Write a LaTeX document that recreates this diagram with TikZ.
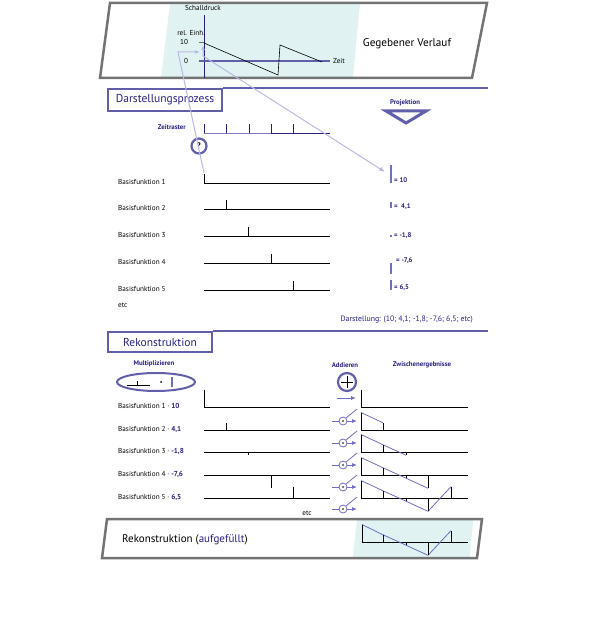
\documentclass[tikz,border=0pt]{standalone}
\usepackage{fontspec}
\setmainfont{PT Sans}
\usepackage{xcolor}
\usetikzlibrary{positioning,calc,arrows.meta,shapes.geometric}
\definecolor{navy}{RGB}{40,32,130}
\definecolor{violett}{RGB}{98,95,170}
\definecolor{lavendel}{RGB}{185,185,228}
\definecolor{schalter}{RGB}{112,110,190}
\definecolor{rahmen}{RGB}{115,115,115}
\definecolor{tuerkis}{RGB}{224,242,242}

\begin{document}
\begin{tikzpicture}[x=1pt,y=-1pt,
    rahmenlinie/.style={draw=rahmen,line width=2.5pt,line join=miter},
    abschnitt/.style={rectangle,draw=violett,line width=2pt,text=navy,font=\fontsize{11.5}{13}\selectfont,inner sep=0pt},
    klein/.style={font=\fontsize{7.2}{8.5}\selectfont,inner sep=0pt},
    blau/.style={text=navy,font=\fontsize{6.8}{8}\selectfont\bfseries,inner sep=0pt},
    wert/.style={font=\fontsize{6.8}{8}\selectfont\bfseries,text=navy,anchor=west,inner sep=0pt},
    kreis/.style={circle,draw=violett,line width=2.2pt,inner sep=0pt,minimum size=15pt},
    schalt/.style={circle,draw=schalter,line width=0.8pt,inner sep=0pt,minimum size=8pt},
    balken/.style={draw=schalter,line width=2pt},
    kurve/.style={draw=schalter,line width=0.8pt}]

\useasboundingbox (0,0) rectangle (591,617);

% gegebener Verlauf
\fill[tuerkis] (170,3) -- (360,3) -- (353,78) -- (161,78) -- cycle;
\draw[rahmenlinie] (110,3) -- (487,3) -- (472,78) -- (100,78) -- cycle;
\draw[navy,line width=0.8pt] (204,15) -- (204,78);
\draw[violett,line width=1.5pt] (199,61) -- (330,61);
\draw[rahmen,line width=1pt] (199,43) -- (204,43);
\draw[line width=0.6pt] (204,43) -- (278,75) -- (280,45) -- (322,62);
\node[klein] (schall) at (203,8) {Schalldruck};
\node[klein,anchor=east] (einh) at (205,33) {rel. Einh.};
\node[klein] (zehn) at (184,42) {10};
\node[klein] (null) at (186,61) {0};
\node[klein,anchor=west] (zeit) at (333,61) {Zeit};
\node[font=\fontsize{11.2}{13}\selectfont] (gegeben) at (407,44) {Gegebener Verlauf};

% Darstellungsprozess
\node[abschnitt,minimum width=114pt,minimum height=22pt] (darst) at (165,100) {Darstellungsprozess};
\draw[violett,line width=2.5pt] (darst.north east) -- ++(265,0);
\node[blau] (proj) at (405,103) {Projektion};
\draw[violett,line width=3pt,line join=miter,fill=white] (386,111) -- (426,111) -- (406,123) -- cycle;

\node[blau,anchor=east] (zeitr) at (186,127) {Zeitraster};
\draw[lavendel!60!navy,line width=0.8pt] (204,133) -- (271,133);
\draw[navy,line width=0.8pt] (271,133) -- (330,133);
\foreach \x in {204,226,249,271,293}
  \draw[navy,line width=0.8pt] (\x,124) -- (\x,133);
\node[kreis] (frage) at (199,146) {\fontsize{8}{9}\selectfont\bfseries ?};

\foreach \i/\y/\x in {1/183/204,2/209/226,3/236/248,4/263/271,5/290/293} {
  \node[klein,anchor=west] (basis\i) at (118,\y-1) {Basisfunktion \i};
  \draw[line width=0.7pt] (204,\y) -- (330,\y);
  \draw[line width=0.7pt] (\x,\y-9) -- (\x,\y);
}
\node[klein,anchor=west] (etc1) at (118,305) {etc};
\coordinate (b1) at (204,173);
\coordinate (knick) at (178,52);
\coordinate (ziel) at (200,52);
\draw[lavendel,line width=1pt,-{Latex[length=5pt]}] (b1) -- (knick) -- (ziel);

% Projektion
\draw[balken] (391,165) -- (391,183);
\draw[balken] (391,202) -- (391,208);
\draw[balken] (391,235.5) -- (391,237);
\draw[balken] (391,263) -- (391,274);
\draw[balken] (391,280) -- (391,290);
\node[wert] (w1) at (394,180) {= 10};
\node[wert] (w2) at (394,207) {=\ \ 4,1};
\node[wert] (w3) at (394,236) {= -1,8};
\node[wert] (w4) at (396,261) {= -7,6};
\node[wert] (w5) at (394,288) {= 6,5};
\coordinate (spitze) at (203,45);
\coordinate (start) at (203,56);
\coordinate (v1) at (385,172);
\draw[lavendel,line width=1pt,{Latex[length=5pt]}-{Latex[length=6pt]}] (spitze) -- (start) -- (v1);
\node[font=\fontsize{7.8}{9}\selectfont,text=navy,anchor=east,inner sep=0pt] (darstellung) at (473,320) {Darstellung: (10; 4,1; -1,8; -7,6; 6,5; etc)};

% Rekonstruktion
\node[abschnitt,minimum width=104pt,minimum height=20pt] (rekon) at (160,342) {Rekonstruktion};
\draw[violett,line width=2.5pt] (rekon.north east) -- ++(275,0);
\node[blau] (multi) at (154,364) {Multiplizieren};
\node[ellipse,draw=violett,line width=2pt,minimum width=78pt,minimum height=18pt] (mulell) at (156,382) {};
\draw[line width=0.6pt] (127,385) -- (150,385);
\draw[line width=0.6pt] (137,381) -- (137,385);
\fill (161,382) circle (1pt);
\draw[schalter,line width=1.5pt] (172,377) -- (172,387);

\foreach \i/\y/\x/\v/\t in {1/407/204/10/10,2/430/226/4.1/{4,1},3/452/248/-1.8/{-1,8},4/475/271/-7.6/{-7,6},5/498/293/6.5/{6,5}} {
  \node[klein,anchor=west] (rek\i) at (118,\y-1) {Basisfunktion \i\ · \textcolor{navy}{\textbf{\t}}};
  \draw[line width=0.7pt] (204,\y) -- (330,\y);
  \draw[line width=0.7pt] (\x,\y-1.75*\v) -- (\x,\y);
}
\node[klein] (etc2) at (307,513) {etc};

\node[blau] (add) at (345,365) {Addieren};
\node[kreis,minimum size=18pt] (plus) at (347,382) {};
\draw[line width=0.8pt] ($(plus)+(-6,0)$) -- ($(plus)+(6,0)$);
\draw[line width=0.8pt] ($(plus)+(0,-6)$) -- ($(plus)+(0,6)$);
\node[blau] (zwisch) at (422,365) {Zwischenergebnisse};

\coordinate (a0) at (337,398);
\coordinate (z0) at (356,398);
\draw[schalter,line width=0.8pt,-{Latex[length=5pt,width=4pt]}] (a0) -- (z0);
\foreach \i/\y in {1/421,2/443,3/465,4/487,5/509} {
  \node[schalt] (s\i) at (343,\y) {};
  \fill[black] (s\i) circle (0.9pt);
  \coordinate (l\i) at (332,\y);
  \coordinate (z\i) at (357,\y);
  \coordinate (o\i) at (357,\y-12);
  \draw[schalter,line width=0.8pt] (l\i) -- (s\i);
  \draw[schalter,line width=0.8pt,-{Latex[length=5pt,width=4pt]}] (s\i) -- (z\i);
  \draw[schalter,line width=0.8pt] (s\i.north east) -- (o\i);
}

% Zwischenergebnisse
\foreach \y in {407,430,452,475,498}
  \draw[line width=0.7pt] (361,\y) -- (468,\y);
\draw[line width=0.7pt] (361,389.5) -- (361,407);
\draw[kurve] (361,412.5) -- (383,422.8);
\foreach \x/\h in {361/17.5,383/7.2}
  \draw[line width=0.7pt] (\x,430) -- (\x,430-\h);
\draw[kurve] (361,434.5) -- (383,444.8) -- (406,455.2);
\foreach \x/\h in {361/17.5,383/7.2,406/-3.2}
  \draw[line width=0.7pt] (\x,452) -- (\x,452-\h);
\draw[kurve] (361,457.5) -- (383,467.8) -- (406,478.2) -- (428,488.3);
\foreach \x/\h in {361/17.5,383/7.2,406/-3.2,428/-13.3}
  \draw[line width=0.7pt] (\x,475) -- (\x,475-\h);
\draw[kurve] (361,480.5) -- (383,490.8) -- (406,501.2) -- (428,511.3) -- (451,486.6);
\foreach \x/\h in {361/17.5,383/7.2,406/-3.2,428/-13.3,451/11.4}
  \draw[line width=0.7pt] (\x,498) -- (\x,498-\h);

% aufgefuellt
\fill[tuerkis] (357,520) -- (473,520) -- (470,557) -- (353,557) -- cycle;
\draw[rahmenlinie] (107,519) -- (482,519) -- (477,558) -- (102,558) -- cycle;
\node[font=\fontsize{11}{13}\selectfont,anchor=west,inner sep=0pt] (aufg) at (122,540) {Rekonstruktion (\textcolor{navy}{aufgefüllt})};
\draw[line width=0.7pt] (362,542) -- (468,542);
\draw[kurve] (362,524.5) -- (383,534.8) -- (406,545.2) -- (428,555.3) -- (451,530.6);
\foreach \x/\h in {362/17.5,383/7.2,406/-3.2,428/-13.3,451/11.4}
  \draw[line width=0.7pt] (\x,542) -- (\x,542-\h);

\end{tikzpicture}
\end{document}
